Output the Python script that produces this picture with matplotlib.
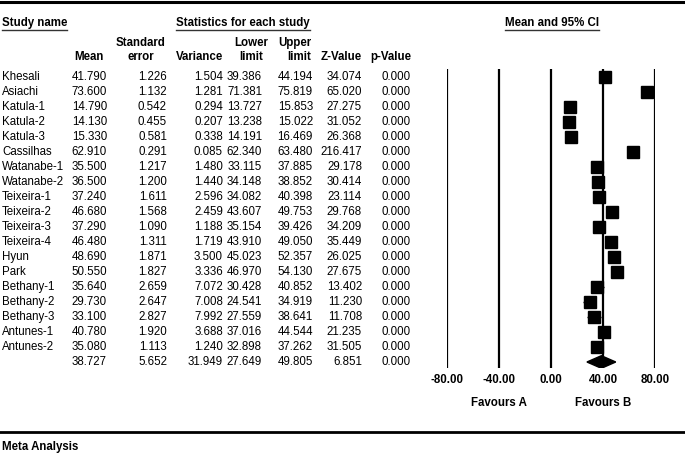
import matplotlib
matplotlib.use('Agg')
import matplotlib.pyplot as plt
from matplotlib.lines import Line2D
from matplotlib.patches import Polygon
from matplotlib.transforms import blended_transform_factory

plt.rcParams['font.family'] = ['Liberation Sans', 'DejaVu Sans']

studies = ['Khesali', 'Asiachi', 'Katula-1', 'Katula-2', 'Katula-3', 'Cassilhas',
           'Watanabe-1', 'Watanabe-2', 'Teixeira-1', 'Teixeira-2', 'Teixeira-3',
           'Teixeira-4', 'Hyun', 'Park', 'Bethany-1', 'Bethany-2', 'Bethany-3',
           'Antunes-1', 'Antunes-2']
mean = [41.790, 73.600, 14.790, 14.130, 15.330, 62.910, 35.500, 36.500, 37.240, 46.680,
        37.290, 46.480, 48.690, 50.550, 35.640, 29.730, 33.100, 40.780, 35.080]
se = [1.226, 1.132, 0.542, 0.455, 0.581, 0.291, 1.217, 1.200, 1.611, 1.568,
      1.090, 1.311, 1.871, 1.827, 2.659, 2.647, 2.827, 1.920, 1.113]
variance = [1.504, 1.281, 0.294, 0.207, 0.338, 0.085, 1.480, 1.440, 2.596, 2.459,
            1.188, 1.719, 3.500, 3.336, 7.072, 7.008, 7.992, 3.688, 1.240]
lower = [39.386, 71.381, 13.727, 13.238, 14.191, 62.340, 33.115, 34.148, 34.082, 43.607,
         35.154, 43.910, 45.023, 46.970, 30.428, 24.541, 27.559, 37.016, 32.898]
upper = [44.194, 75.819, 15.853, 15.022, 16.469, 63.480, 37.885, 38.852, 40.398, 49.753,
         39.426, 49.050, 52.357, 54.130, 40.852, 34.919, 38.641, 44.544, 37.262]
zval = [34.074, 65.020, 27.275, 31.052, 26.368, 216.417, 29.178, 30.414, 23.114, 29.768,
        34.209, 35.449, 26.025, 27.675, 13.402, 11.230, 11.708, 21.235, 31.505]
pval = [0.000] * 19

# pooled (random effects) row
pooled = {'mean': 38.727, 'se': 5.652, 'var': 31.949, 'lower': 27.649,
          'upper': 49.805, 'z': 6.851, 'p': 0.000}

xticks = [-80, -40, 0, 40, 80]

W, H = 685, 454
fig = plt.figure(figsize=(W / 100, H / 100), dpi=100)

def fx(x):
    return x / W

def fy(y):
    return 1 - y / H

FS = 8.3
row_top, row_bot = 69, 368          # pixel extent of the plot area
row0, step = 77, 15                 # pixel y of first row, row spacing
ylim = ((row_bot - row0) / step, (row_top - row0) / step)

# forest axes: -80..80 mapped onto pixels 447..655
x_left, x_right = 447, 655
ax = fig.add_axes([fx(x_left), fy(row_bot), fx(x_right - x_left), (row_bot - row_top) / H])
ax.set_xlim(-80, 80)
ax.set_ylim(*ylim)
for t in xticks:
    ax.axvline(t, color='black', lw=1.6)
rows = list(range(len(studies)))
ax.hlines(rows, lower, upper, color='black', lw=1)
ax.plot(mean, rows, 's', color='black', ms=8.6)
r = len(studies)
ax.add_patch(Polygon([(pooled['lower'], r), (pooled['mean'], r - 0.42),
                      (pooled['upper'], r), (pooled['mean'], r + 0.42)],
                     closed=True, color='black'))
ax.set_xticks(xticks)
ax.set_xticklabels(['%.2f' % t for t in xticks], fontweight='bold', fontsize=FS)
ax.tick_params(length=0, pad=4)
ax.set_yticks([])
for s in ax.spines.values():
    s.set_visible(False)

tr = blended_transform_factory(ax.transData, fig.transFigure)
ax.text(-40, fy(403), 'Favours A', transform=tr, ha='center', va='center',
        fontweight='bold', fontsize=FS)
ax.text(40, fy(403), 'Favours B', transform=tr, ha='center', va='center',
        fontweight='bold', fontsize=FS)

# table axes, same rows
tab = fig.add_axes([0, fy(row_bot), 1, (row_bot - row_top) / H])
tab.set_xlim(0, W)
tab.set_ylim(*ylim)
tab.axis('off')
tab.patch.set_visible(False)

col_right = [107, 167, 223, 262, 313, 362, 411]
cols = [mean, se, variance, lower, upper, zval, pval]
for i, name in enumerate(studies):
    tab.text(2, i, name, ha='left', va='center', fontsize=FS)
    for xr, c in zip(col_right, cols):
        tab.text(xr, i, '%.3f' % c[i], ha='right', va='center', fontsize=FS)
pooled_vals = [pooled['mean'], pooled['se'], pooled['var'], pooled['lower'],
               pooled['upper'], pooled['z'], pooled['p']]
for xr, v in zip(col_right, pooled_vals):
    tab.text(xr, r, '%.3f' % v, ha='right', va='center', fontsize=FS)

# column headers
hdr = dict(fontsize=FS, fontweight='bold', va='center')
fig.text(fx(104), fy(57), 'Mean', ha='right', **hdr)
fig.text(fx(141), fy(50), 'Standard\nerror', ha='center', multialignment='center',
         linespacing=1.3, **hdr)
fig.text(fx(223), fy(57), 'Variance', ha='right', **hdr)
fig.text(fx(251), fy(50), 'Lower\nlimit', ha='center', multialignment='center',
         linespacing=1.3, **hdr)
fig.text(fx(311), fy(50), 'Upper\nlimit', ha='right', multialignment='right',
         linespacing=1.3, **hdr)
fig.text(fx(362), fy(57), 'Z-Value', ha='right', **hdr)
fig.text(fx(411), fy(57), 'p-Value', ha='right', **hdr)

titles = [fig.text(fx(2), fy(23), 'Study name', ha='left', **hdr),
          fig.text(fx(243), fy(23), 'Statistics for each study', ha='center', **hdr),
          fig.text(fx(552), fy(23), 'Mean and 95% CI', ha='center', **hdr)]
fig.text(fx(2), fy(447), 'Meta Analysis', ha='left', **hdr)

# underline the section titles
fig.canvas.draw()
ren = fig.canvas.get_renderer()
for t in titles:
    bb = t.get_window_extent(ren)
    yline = (bb.y0 - 1) / H
    fig.add_artist(Line2D([bb.x0 / W, bb.x1 / W], [yline, yline], color='#333333', lw=1))

# frame rules at top and bottom
fig.add_artist(Line2D([0, 1], [fy(1.5), fy(1.5)], color='black', lw=2.2))
fig.add_artist(Line2D([0, 1], [fy(432), fy(432)], color='black', lw=2.0))

fig.savefig('out.png', dpi=100)
